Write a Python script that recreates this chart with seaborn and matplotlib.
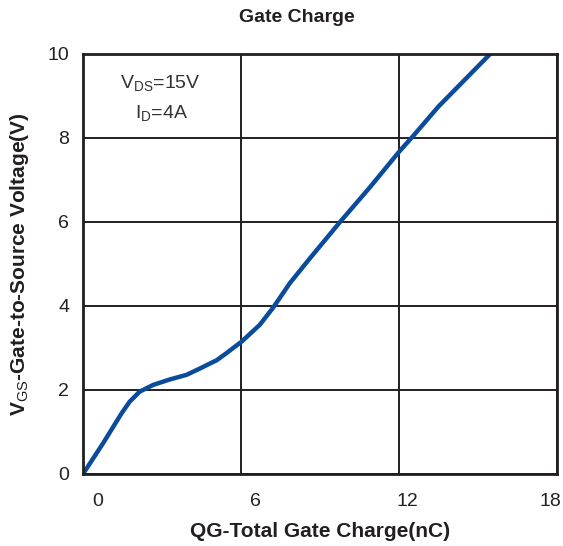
import matplotlib
matplotlib.use("Agg")
import matplotlib.pyplot as plt
import matplotlib.transforms as mtransforms
import seaborn as sns
import pandas as pd

# ---- data ----
qg_nc = [0.0, 0.76, 1.46, 1.77, 2.15, 2.66, 3.29, 3.93, 4.4, 5.08, 5.43, 6.02,
         6.71, 7.22, 7.85, 8.61, 9.76, 10.9, 12.0, 12.54, 13.5, 15.46]
vgs_v = [0.0, 0.73, 1.44, 1.72, 1.96, 2.12, 2.25, 2.36, 2.5, 2.71, 2.87, 3.15,
         3.55, 3.96, 4.54, 5.13, 6.0, 6.83, 7.67, 8.05, 8.75, 10.0]
x_ticks = [0, 6, 12, 18]
x_tick_labels = ["0", "6", "12", "18"]
y_ticks = [0, 2, 4, 6, 8, 10]
y_tick_labels = ["0", "2", "4", "6", "8", "10"]

df = pd.DataFrame({"QG": qg_nc, "VGS": vgs_v})

sns.set_theme(style="white")
plt.rcParams["font.family"] = ["Liberation Sans", "DejaVu Sans"]
plt.rcParams["mathtext.fontset"] = "custom"
plt.rcParams["mathtext.rm"] = "Liberation Sans"
plt.rcParams["mathtext.it"] = "Liberation Sans"
plt.rcParams["mathtext.bf"] = "Liberation Sans:bold"

dark = "#231f20"
fig = plt.figure(figsize=(5.63, 5.46), dpi=100)
ax = fig.add_axes([83 / 563, 72 / 546, 474 / 563, 420 / 546])

sns.lineplot(data=df, x="QG", y="VGS", ax=ax, color="#0a4b9c", linewidth=3.2,
             solid_joinstyle="round", solid_capstyle="round", sort=False)

ax.set_xlim(0, 18)
ax.set_ylim(0, 10)
ax.set_xticks(x_ticks)
ax.set_xticklabels(x_tick_labels)
ax.set_yticks(y_ticks)
ax.set_yticklabels(y_tick_labels)
ax.grid(True, color=dark, linewidth=1.4)
ax.set_axisbelow(True)
for s in ax.spines.values():
    s.set_color(dark)
    s.set_linewidth(2.0)
    s.set_visible(True)
ax.tick_params(axis="both", length=0, labelsize=14, colors="#222222")
ax.tick_params(axis="x", pad=14)
ax.tick_params(axis="y", pad=10)

# horizontal shift of x tick labels as in the reference
shifts = [15, 14, 8, -7]
for lbl, dx in zip(ax.get_xticklabels(), shifts):
    lbl.set_transform(lbl.get_transform() +
                      mtransforms.ScaledTranslation(dx / 100, 0, fig.dpi_scale_trans))

ax.set_xlabel("QG-Total Gate Charge(nC)", fontsize=15, fontweight="bold",
              color=dark, labelpad=8)
ax.set_ylabel(r"V$_{\rm GS}$-Gate-to-Source Voltage(V)", fontsize=15,
              fontweight="bold", color=dark, labelpad=12)

fig.text(297 / 563, 1 - 18 / 546, "Gate Charge", ha="center", va="center",
         fontsize=14, fontweight="bold", color=dark)

ax.text(0.163, 0.93, r"V$_{\rm DS}$=15V", transform=ax.transAxes, ha="center",
        va="center", fontsize=14, color="#333333")
ax.text(0.165, 0.86, r"I$_{\rm D}$=4A", transform=ax.transAxes, ha="center",
        va="center", fontsize=14, color="#333333")

fig.savefig("out.png", dpi=100)
